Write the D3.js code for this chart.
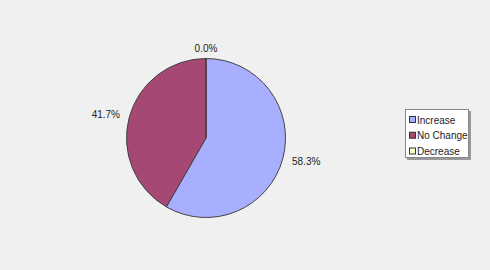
<!DOCTYPE html>
<html>
<head>
<meta charset="utf-8">
<script src="https://cdn.jsdelivr.net/npm/d3@7"></script>
<style>
  body { margin: 0; background: #f0f0f0; }
  text { font-family: "Liberation Sans", Arial, sans-serif; font-size: 10px; fill: #222; }
</style>
</head>
<body>
<div id="chart"></div>
<script>
var categories = ["Increase", "No Change", "Decrease"];
var shares = [58.3, 41.7, 0.0];
var colors = ["#a9afff", "#a54874", "#ffffcc"];

var svgWidth = 490;
var svgHeight = 270;

var svg = d3.select("#chart")
  .append("svg")
  .attr("width", svgWidth)
  .attr("height", svgHeight);

svg.append("rect")
  .attr("width", svgWidth)
  .attr("height", svgHeight)
  .attr("fill", "#f0f0f0");

var cx = 206, cy = 138, radius = 79.5;

var pie = d3.pie().sort(null).value(d => d);
var arcs = pie(shares);
var arc = d3.arc().innerRadius(0).outerRadius(radius);

var pieGroup = svg.append("g")
  .attr("transform", `translate(${cx}, ${cy})`);

pieGroup.selectAll("path")
  .data(arcs)
  .enter()
  .append("path")
  .attr("d", arc)
  .attr("fill", (d, i) => colors[i])
  .attr("stroke", "#444")
  .attr("stroke-width", 1);

// percentage labels outside the pie
var labelR = 89;
pieGroup.selectAll("text.pct")
  .data(arcs)
  .enter()
  .append("text")
  .attr("class", "pct")
  .attr("x", d => {
    var a = (d.startAngle + d.endAngle) / 2;
    return labelR * Math.sin(a);
  })
  .attr("y", d => {
    var a = (d.startAngle + d.endAngle) / 2;
    return -(labelR + 1) * Math.cos(a);
  })
  .attr("dy", "0.35em")
  .attr("text-anchor", d => {
    var s = Math.sin((d.startAngle + d.endAngle) / 2);
    return s > 0.2 ? "start" : (s < -0.2 ? "end" : "middle");
  })
  .text(d => d.data.toFixed(1) + "%");

// legend
var legend = svg.append("g")
  .attr("transform", "translate(405, 109)");

legend.append("rect")
  .attr("x", 2).attr("y", 2)
  .attr("width", 64).attr("height", 49)
  .attr("fill", "#999");

legend.append("rect")
  .attr("x", 0.5).attr("y", 0.5)
  .attr("width", 63).attr("height", 48)
  .attr("fill", "#fff")
  .attr("stroke", "#888");

var rowY = d3.scalePoint()
  .domain(categories)
  .range([11, 42.5]);

var rows = legend.selectAll("g.row")
  .data(categories)
  .enter()
  .append("g")
  .attr("class", "row")
  .attr("transform", d => `translate(0, ${rowY(d)})`);

rows.append("rect")
  .attr("x", 4.5).attr("y", -3.5)
  .attr("width", 6).attr("height", 6)
  .attr("fill", (d, i) => colors[i])
  .attr("stroke", "#333");

rows.append("text")
  .attr("x", 12)
  .attr("y", 0)
  .attr("dy", "0.35em")
  .text(d => d);
</script>
</body>
</html>
